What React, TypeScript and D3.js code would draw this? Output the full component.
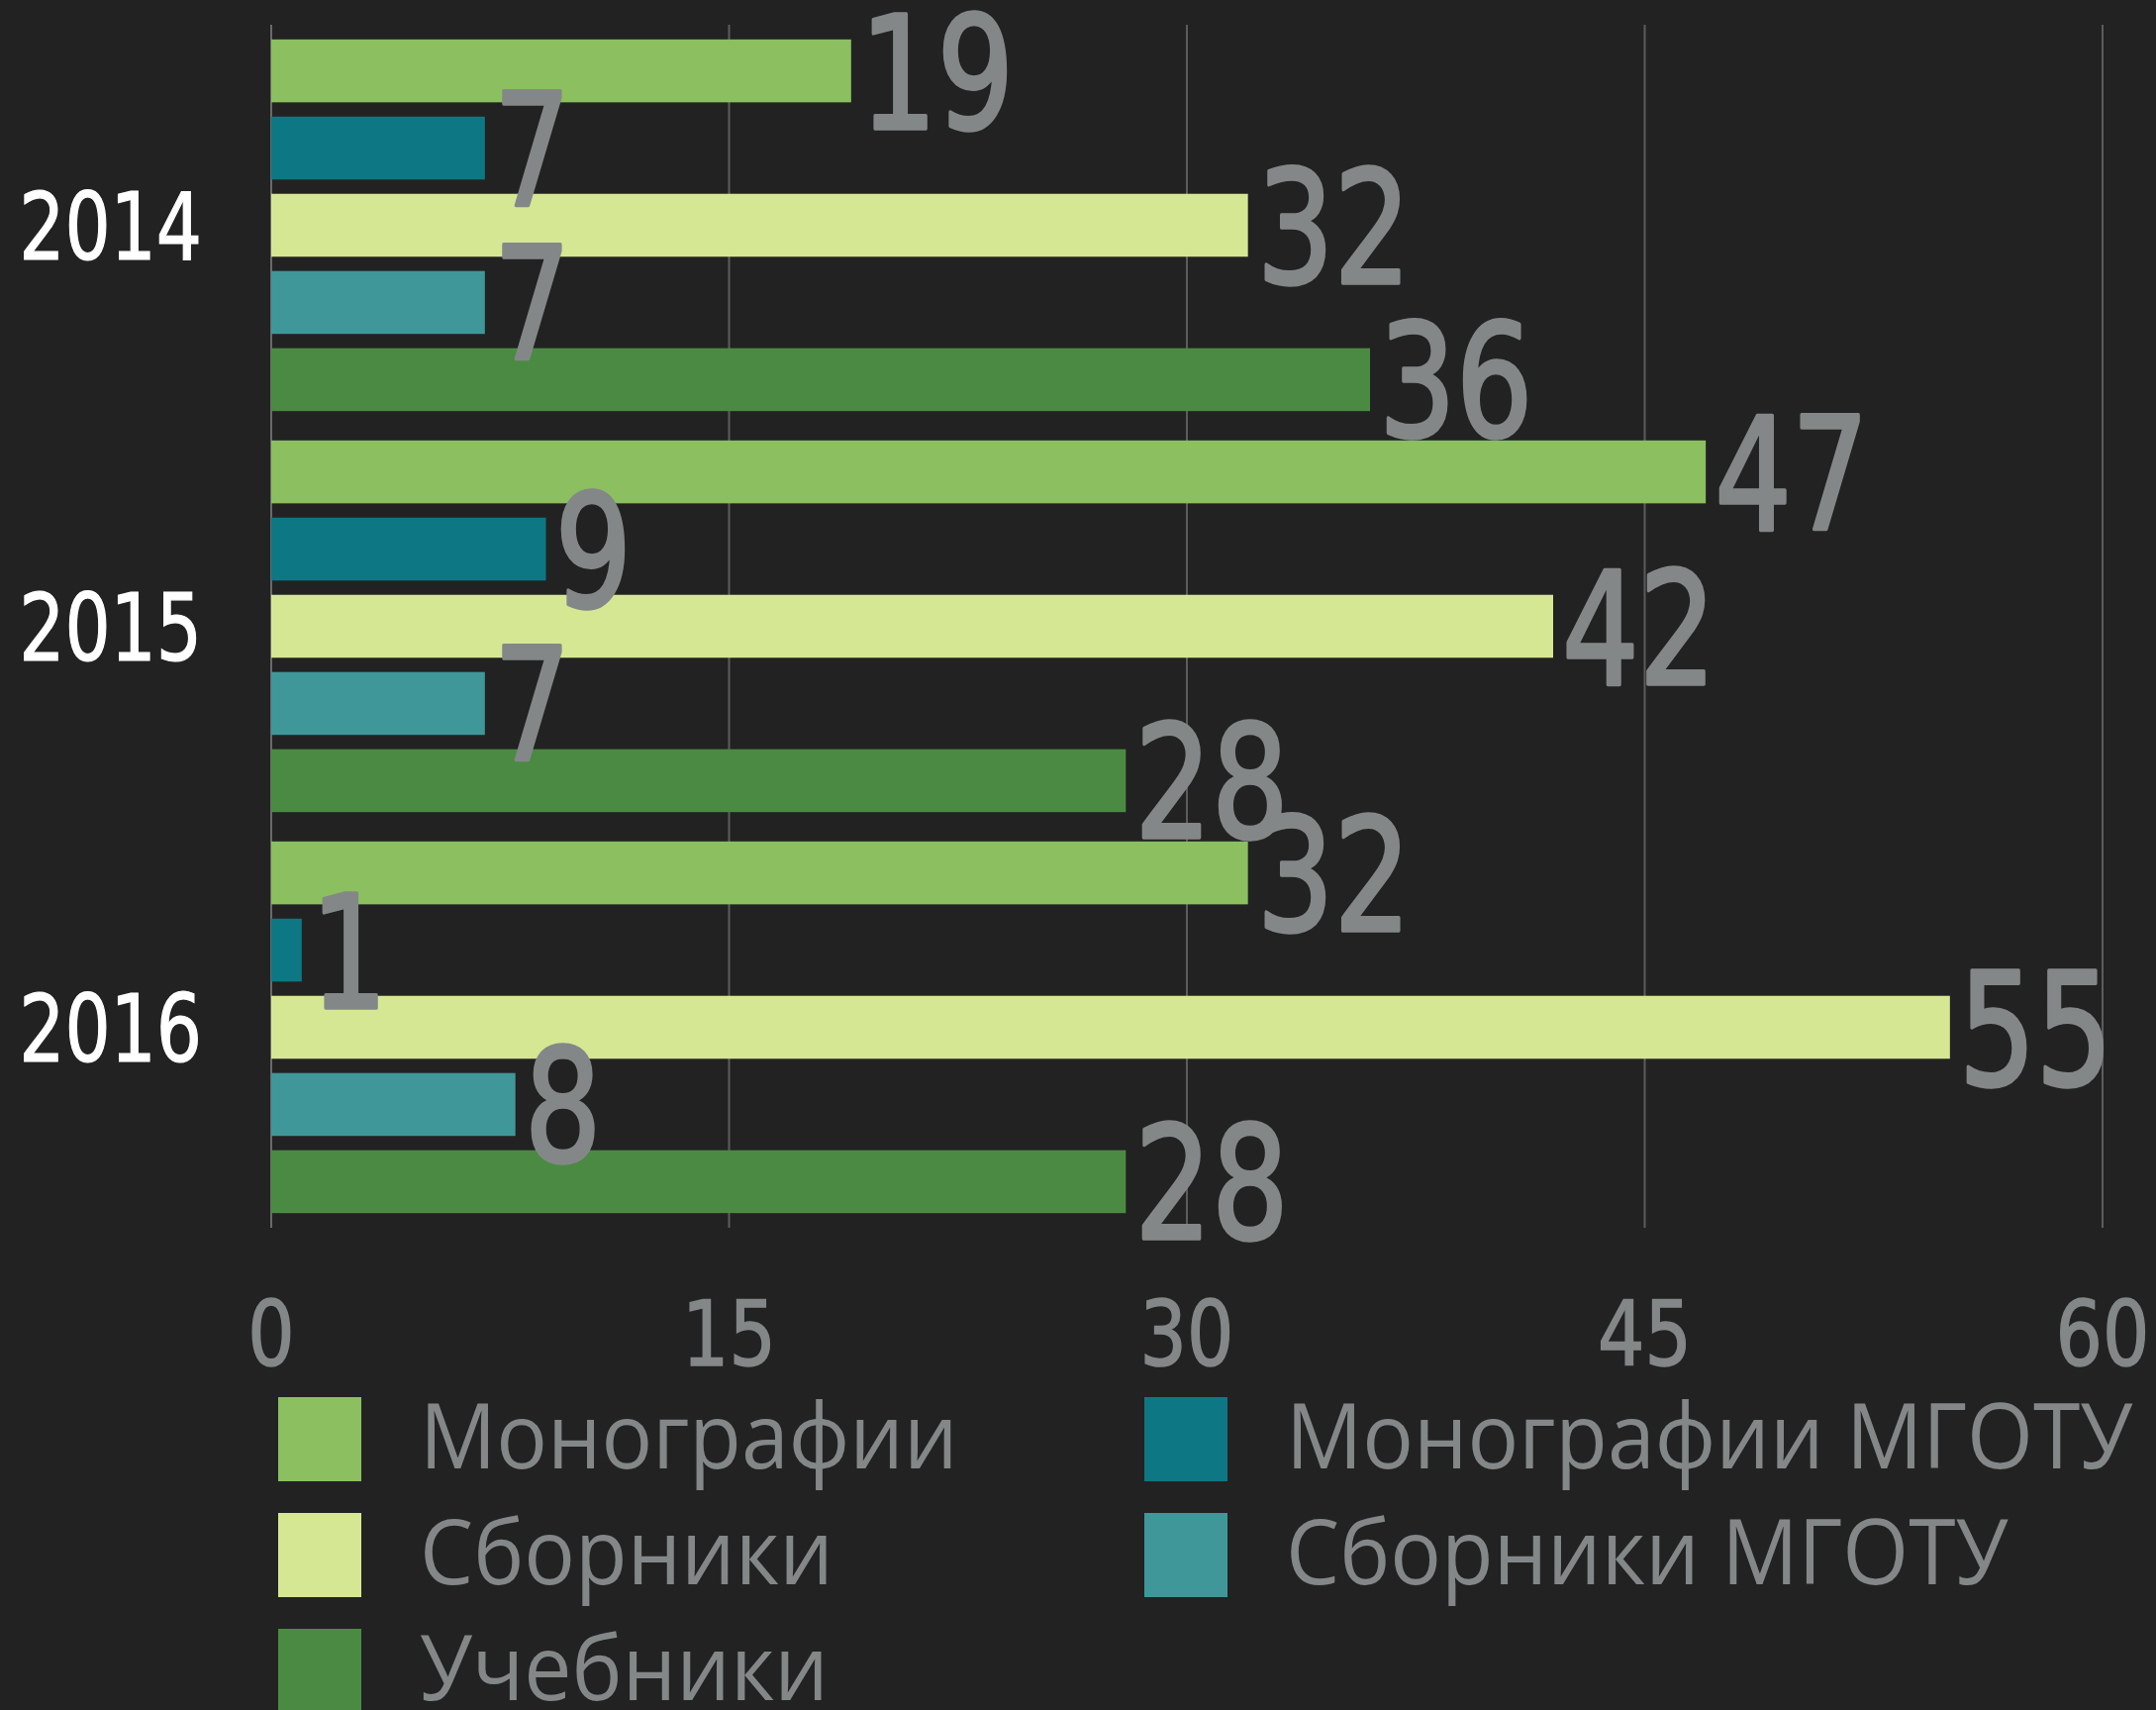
import React, { useEffect, useRef } from "react";
import * as d3 from "d3";

const years = ["2014", "2015", "2016"];
const seriesNames = ["Монографии", "Монографии МГОТУ", "Сборники", "Сборники МГОТУ", "Учебники"];
const seriesColors = ["#8bbf60", "#0d7883", "#d6e794", "#40979a", "#4b8a43"];
const monographs = [19, 47, 32];
const monographsMGOTU = [7, 9, 1];
const collections = [32, 42, 55];
const collectionsMGOTU = [7, 7, 8];
const textbooks = [36, 28, 28];
const xTicks = [0, 15, 30, 45, 60];
const legendOrder = [0, 2, 4, 1, 3];

const W = 2178;
const H = 1727;
const NUM_FONT = "'DejaVu Sans Condensed', 'DejaVu Sans', sans-serif";
const TEXT_FONT = "'Open Sans', 'Noto Sans', sans-serif";

export default function App() {
  const ref = useRef<SVGSVGElement | null>(null);

  useEffect(() => {
    const svg = d3.select(ref.current);
    svg.selectAll("*").remove();
    const values = [monographs, monographsMGOTU, collections, collectionsMGOTU, textbooks];

    const x = d3.scaleLinear().domain([0, 60]).range([274, 2124]);
    const y0 = d3.scaleBand<string>().domain(years).range([25, 1240]).paddingInner(0).paddingOuter(0);
    const y1 = d3
      .scaleBand<string>()
      .domain(seriesNames)
      .range([0, y0.bandwidth()])
      .paddingInner(0.185)
      .paddingOuter(0.19);

    svg.append("rect").attr("width", W).attr("height", H).attr("fill", "#222222");

    // gridlines
    svg
      .append("g")
      .selectAll("line")
      .data(xTicks)
      .join("line")
      .attr("x1", (d) => x(d))
      .attr("x2", (d) => x(d))
      .attr("y1", 25)
      .attr("y2", 1240)
      .attr("stroke", (d) => (d === 0 ? "#6a6a6a" : "#5c5c5c"))
      .attr("stroke-width", 2);

    // bars
    const rows: { year: string; s: number; v: number }[] = [];
    years.forEach((yr, i) => seriesNames.forEach((_, s) => rows.push({ year: yr, s, v: values[s][i] })));

    svg
      .append("g")
      .selectAll("rect")
      .data(rows)
      .join("rect")
      .attr("x", x(0))
      .attr("y", (d) => (y0(d.year) as number) + (y1(seriesNames[d.s]) as number))
      .attr("width", (d) => x(d.v) - x(0))
      .attr("height", y1.bandwidth())
      .attr("fill", (d) => seriesColors[d.s]);

    // value labels
    svg
      .append("g")
      .selectAll("text")
      .data(rows)
      .join("text")
      .attr(
        "transform",
        (d) =>
          `translate(${x(d.v) + 9},${(y0(d.year) as number) + (y1(seriesNames[d.s]) as number) + y1.bandwidth() / 2 + 58}) scale(0.86,1)`
      )
      .attr("font-family", NUM_FONT)
      .attr("font-size", 158)
      .attr("fill", "#848788")
      .attr("stroke", "#848788")
      .attr("stroke-width", 3.5)
      .attr("stroke-linejoin", "round")
      .text((d) => String(d.v));

    // year labels
    svg
      .append("g")
      .selectAll("text")
      .data(years)
      .join("text")
      .attr("transform", (d) => `translate(204,${(y0(d) as number) + y0.bandwidth() / 2 + 34}) scale(0.85,1)`)
      .attr("text-anchor", "end")
      .attr("font-family", NUM_FONT)
      .attr("font-size", 95)
      .attr("fill", "#ffffff")
      .attr("stroke", "#ffffff")
      .attr("stroke-width", 1.2)
      .text((d) => d);

    // x tick labels
    svg
      .append("g")
      .selectAll("text")
      .data(xTicks)
      .join("text")
      .attr("transform", (d) => `translate(${x(d)},1379) scale(0.92,1)`)
      .attr("text-anchor", "middle")
      .attr("font-family", NUM_FONT)
      .attr("font-size", 90)
      .attr("fill", "#848788")
      .attr("stroke", "#848788")
      .attr("stroke-width", 1.5)
      .text((d) => String(d));

    // legend
    const lg = svg.append("g");
    legendOrder.forEach((s, k) => {
      const col = k < 3 ? 0 : 1;
      const row = k < 3 ? k : k - 3;
      const lx = col === 0 ? 281 : 1156;
      const ly = 1411 + row * 117;
      lg.append("rect").attr("x", lx).attr("y", ly).attr("width", 84).attr("height", 85).attr("fill", seriesColors[s]);
      lg.append("text")
        .attr("transform", `translate(${lx + 143},${ly + 72}) scale(0.935,1)`)
        .attr("font-family", TEXT_FONT)
        .attr("font-size", 92)
        .attr("fill", "#848788")
        .text(seriesNames[s]);
    });
  }, []);

  return (
    <div style={{ position: "absolute", left: 0, top: 0 }}>
      <svg ref={ref} width={W} height={H} style={{ display: "block" }} />
    </div>
  );
}
